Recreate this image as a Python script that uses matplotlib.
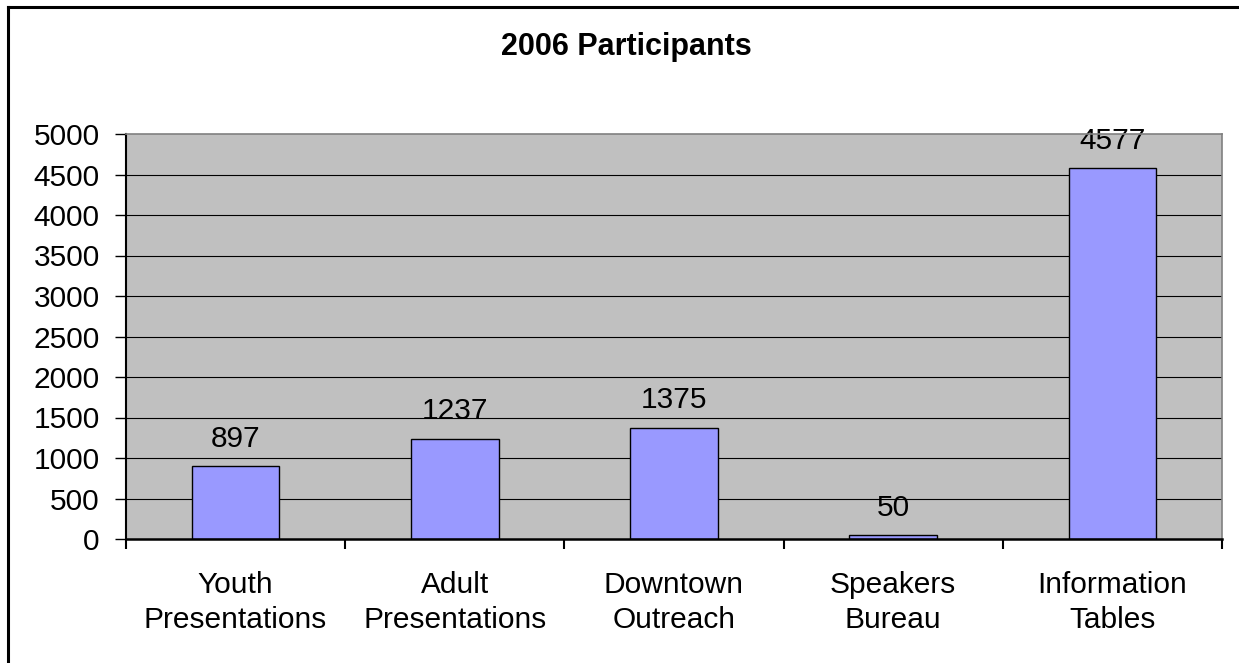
import matplotlib.pyplot as plt
from matplotlib.lines import Line2D
import numpy as np

# data
categories = ['Youth\nPresentations', 'Adult\nPresentations', 'Downtown\nOutreach',
              'Speakers\nBureau', 'Information\nTables']
participants = [897, 1237, 1375, 50, 4577]
yticks = [0, 500, 1000, 1500, 2000, 2500, 3000, 3500, 4000, 4500, 5000]

plt.rcParams['font.family'] = ['Liberation Sans', 'DejaVu Sans']

fig = plt.figure(figsize=(12.39, 6.63), dpi=100)
ax = fig.add_axes([126/1239, 1-539/663, (1222-126)/1239, (539-134)/663])
ax.set_facecolor('#C0C0C0')

x = np.arange(len(categories))
ax.bar(x, participants, width=0.40, color='#9999FF', edgecolor='black', linewidth=1.0, zorder=3)

for xi, v in zip(x, participants):
    ax.annotate(str(v), (xi, v), xytext=(0, 14), textcoords='offset points',
                ha='center', va='baseline', fontsize=21.5, zorder=4, annotation_clip=False)

ax.set_xlim(-0.5, len(categories)-0.5)
ax.set_ylim(0, 5000)
ax.set_yticks(yticks)
ax.set_yticklabels([str(t) for t in yticks])
ax.tick_params(axis='y', direction='out', length=8, width=1, labelsize=21.5, pad=11)

# x ticks at category boundaries, labels in the middle
ax.set_xticks(np.arange(-0.5, len(categories), 1.0))
ax.set_xticklabels([])
ax.set_xticks(x, minor=True)
ax.set_xticklabels(categories, minor=True, linespacing=1.3)
ax.tick_params(axis='x', which='major', direction='out', length=7.5, width=1.5)
ax.tick_params(axis='x', which='minor', length=0, labelsize=21.5, pad=23)

for t in yticks[1:-1]:
    ax.axhline(t, color='black', linewidth=0.8, zorder=1)

ax.spines['left'].set_linewidth(1.5)
ax.spines['bottom'].set_linewidth(1.8)
ax.spines['top'].set_color('#808080')
ax.spines['right'].set_color('#808080')
ax.spines['top'].set_linewidth(1.2)
ax.spines['right'].set_linewidth(1.2)
for s in ax.spines.values():
    s.set_zorder(5)

fig.text(626/1239, 1-47/663, '2006 Participants', ha='center', va='center',
         fontsize=22, fontweight='bold')

# outer border (top and left only visible)
fig.add_artist(Line2D([7.5/1239, 1.0], [1-7/663, 1-7/663], color='black', linewidth=2.2,
                      transform=fig.transFigure))
fig.add_artist(Line2D([7.5/1239, 7.5/1239], [0.0, 1-7/663], color='black', linewidth=2.2,
                      transform=fig.transFigure))

fig.savefig('out.png', dpi=100)
